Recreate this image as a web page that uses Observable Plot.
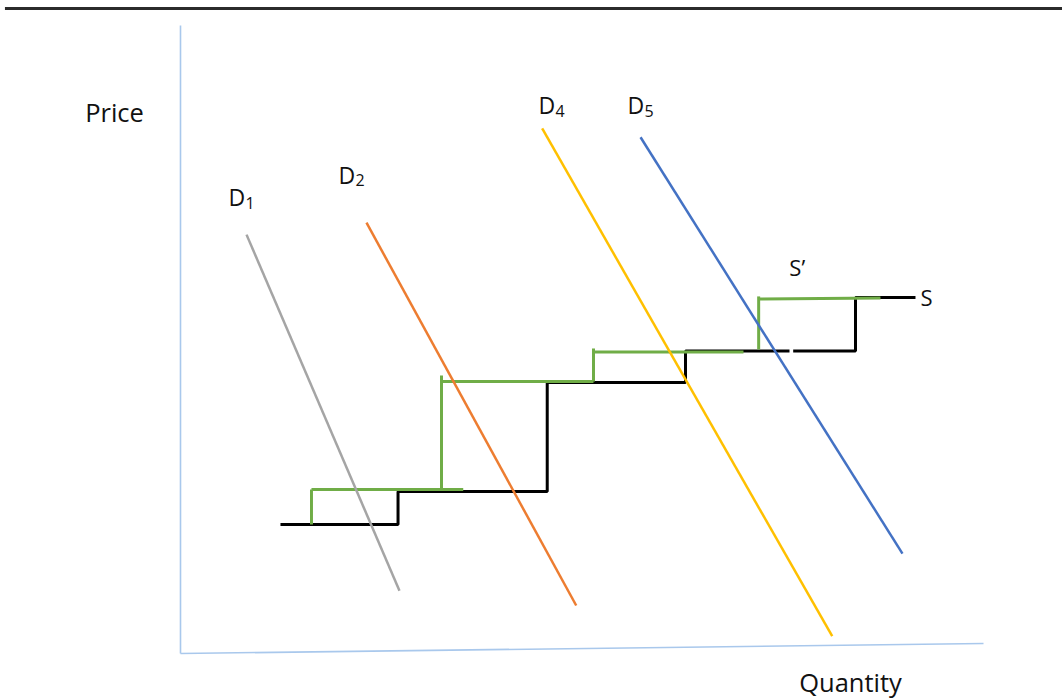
<!DOCTYPE html>
<html>
<head>
<meta charset="utf-8">
<script src="https://cdn.jsdelivr.net/npm/d3@7"></script>
<script src="https://cdn.jsdelivr.net/npm/@observablehq/plot@0.6"></script>
<style>
  html, body { margin: 0; padding: 0; background: #ffffff; }
  #chart { width: 1062px; height: 700px; }
</style>
</head>
<body>
<div id="chart"></div>
<script>
// ---- Demand curves (Quantity 0–100, Price 0–100) ----
const demandNames  = ["D", "D", "D", "D"];
const demandSubs   = ["1", "2", "4", "5"];
const demandColors = ["#a5a5a5", "#ed7d31", "#ffc000", "#4472c4"];
const demandQ1 = [8.22, 23.16, 45.04, 57.29];
const demandP1 = [66.7, 68.6, 83.6, 82.2];
const demandQ2 = [27.27, 49.28, 81.16, 89.91];
const demandP2 = [10.0, 7.64, 2.75, 15.9];
const demandLabelQ = [5.98, 19.68, 44.58, 55.67];
const demandLabelP = [72.4, 76.0, 87.1, 87.1];

// ---- Original supply S (step line, two parts because of the small gap) ----
const supplyQ    = [12.45, 27.09, 27.09, 45.67, 45.67, 62.89, 62.89, 75.84, 76.30, 84.06, 84.06, 91.53];
const supplyP    = [20.54, 20.54, 25.80, 25.80, 43.15, 43.15, 48.17, 48.17, 48.17, 48.17, 56.69, 56.69];
const supplyPart = [1, 1, 1, 1, 1, 1, 1, 1, 2, 2, 2, 2];

// ---- New supply S' (drawn as separate segments) ----
const newSupplyQ1 = [16.31, 16.31, 32.50, 32.50, 51.43, 51.43, 72.00, 72.00];
const newSupplyP1 = [20.54, 26.11, 26.11, 43.31, 43.31, 48.01, 48.41, 56.46];
const newSupplyQ2 = [16.31, 35.21, 32.50, 51.43, 51.43, 70.11, 72.00, 87.17];
const newSupplyP2 = [26.11, 26.11, 44.27, 43.31, 48.57, 48.01, 56.86, 56.62];

// ---- Text labels ----
const axisLabels  = ["Price", "Quantity"];
const axisLabelQ  = [-8.22, 83.44];
const axisLabelP  = [86.0, -4.78];
const supplyLabels = ["S\u2019", "S"];
const supplyLabelQ = [76.8, 92.9];
const supplyLabelP = [61.3, 56.5];
const supplyLabelAnchor = ["middle", "start"];

// axis frame lines (slightly tilted horizontal axis as in the reference)
const axisQ1 = [0, 0];
const axisP1 = [0, 0];
const axisQ2 = [0, 100];
const axisP2 = [100, 1.59];

// page rule at the top
const pageRuleP = [102.7];

const demand = demandNames.map((n, i) => ({
  name: n, sub: demandSubs[i], color: demandColors[i],
  q1: demandQ1[i], p1: demandP1[i], q2: demandQ2[i], p2: demandP2[i],
  lq: demandLabelQ[i], lp: demandLabelP[i]
}));
const supply = supplyQ.map((q, i) => ({q, p: supplyP[i], part: supplyPart[i]}));
const newSupply = newSupplyQ1.map((q, i) => ({q1: q, p1: newSupplyP1[i], q2: newSupplyQ2[i], p2: newSupplyP2[i]}));
const axes = axisQ1.map((q, i) => ({q1: q, p1: axisP1[i], q2: axisQ2[i], p2: axisP2[i]}));
const axisText = axisLabels.map((t, i) => ({t, q: axisLabelQ[i], p: axisLabelP[i]}));
const supplyText = supplyLabels.map((t, i) => ({t, q: supplyLabelQ[i], p: supplyLabelP[i], a: supplyLabelAnchor[i]}));

const font = "'Open Sans', 'Noto Sans', sans-serif";

const chart = Plot.plot({
  width: 1062,
  height: 700,
  marginLeft: 180,
  marginRight: 79,
  marginTop: 25,
  marginBottom: 47,
  x: {domain: [0, 100], axis: null},
  y: {domain: [0, 100], axis: null},
  style: {fontFamily: font, background: "#ffffff", color: "#111111"},
  marks: [
    Plot.ruleY(pageRuleP, {x1: -21.8, x2: 110, stroke: "#2b2b2b", strokeWidth: 3}),
    Plot.link(axes, {x1: "q1", y1: "p1", x2: "q2", y2: "p2", stroke: "#a9c8ec", strokeWidth: 1.6}),
    Plot.line(supply, {x: "q", y: "p", z: "part", stroke: "#000000", strokeWidth: 3, strokeLinejoin: "miter", strokeLinecap: "butt"}),
    Plot.link(newSupply, {x1: "q1", y1: "p1", x2: "q2", y2: "p2", stroke: "#70ad47", strokeWidth: 3, strokeLinecap: "butt"}),
    Plot.link(demand, {x1: "q1", y1: "p1", x2: "q2", y2: "p2", stroke: d => d.color, strokeWidth: 2.5, strokeLinecap: "butt"}),
    Plot.text(demand, {x: "lq", y: "lp", text: "name", textAnchor: "start", lineAnchor: "middle", fontSize: 23, fill: "#111111"}),
    Plot.text(demand, {x: "lq", y: "lp", text: "sub", textAnchor: "start", lineAnchor: "middle", fontSize: 16, dx: 17, dy: 5, fill: "#111111"}),
    Plot.text(supplyText, {x: "q", y: "p", text: "t", textAnchor: d => d.a, lineAnchor: "middle", fontSize: 22, fill: "#111111"}),
    Plot.text(axisText, {x: "q", y: "p", text: "t", textAnchor: "middle", lineAnchor: "middle", fontSize: 25.5, fill: "#111111"})
  ]
});

document.getElementById("chart").appendChild(chart);
</script>
</body>
</html>
